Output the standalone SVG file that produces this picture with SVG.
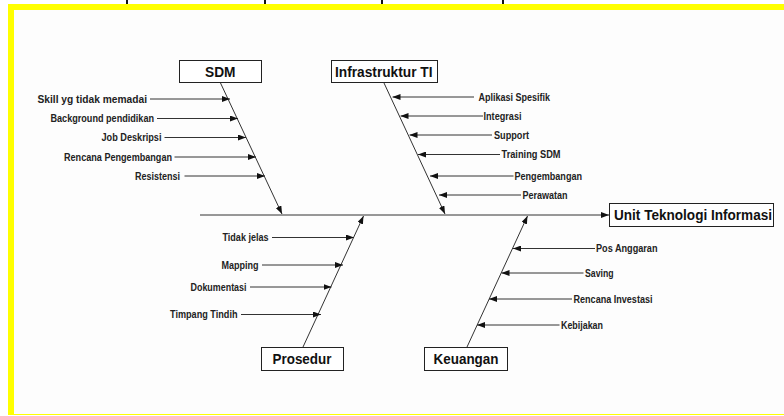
<svg xmlns="http://www.w3.org/2000/svg" width="784" height="416" viewBox="0 0 784 416">
  <style>
    .bg { fill: #fdfdfd; }
    .frame { fill: #ffff00; }
    .box { fill: #ffffff; stroke: #222222; stroke-width: 1; }
    .title { font-family: "Liberation Sans", Arial, sans-serif; font-weight: bold; font-size: 14px; fill: #111111; }
    .cause { font-family: "Liberation Sans", Arial, sans-serif; font-weight: bold; font-size: 10px; fill: #222222; }
    .bone { stroke: #333333; stroke-width: 1; fill: none; marker-end: url(#arrow); }
    .mark { fill: #111111; }
  </style>
  <defs>
    <marker id="arrow" markerUnits="userSpaceOnUse" markerWidth="8" markerHeight="6" refX="8" refY="3" orient="auto">
      <path d="M0,0 L8,3 L0,6 z" fill="#111111"/>
    </marker>
  </defs>

  <rect x="0" y="0" width="784" height="416" fill="#ffffff"/>
  <rect class="bg" x="14" y="10" width="770" height="404"/>
  <rect class="frame" x="8" y="4" width="776" height="6"/>
  <rect class="frame" x="8" y="4" width="6" height="411"/>
  <rect class="frame" x="8" y="414" width="776" height="1"/>
  <rect class="mark" x="126" y="0" width="2" height="4"/>
  <rect class="mark" x="264" y="0" width="2" height="4"/>
  <rect class="mark" x="381" y="0" width="2" height="4"/>
  <rect class="mark" x="502" y="0" width="2" height="4"/>

  <g id="connectors">
    <line class="bone" x1="200" y1="215" x2="609" y2="215"/>
    <line class="bone" x1="220.5" y1="83" x2="282" y2="214"/>
    <line class="bone" x1="384" y1="83" x2="445" y2="214"/>
    <line class="bone" x1="303" y1="347" x2="363.5" y2="216"/>
    <line class="bone" x1="467" y1="347" x2="527.5" y2="216"/>
    <!-- SDM causes -->
    <line class="bone" x1="150" y1="99" x2="230" y2="99"/>
    <line class="bone" x1="157" y1="118.5" x2="238" y2="118.5"/>
    <line class="bone" x1="164.5" y1="137.5" x2="246" y2="137.5"/>
    <line class="bone" x1="174.5" y1="157" x2="256" y2="157"/>
    <line class="bone" x1="184.5" y1="176" x2="265" y2="176"/>
    <!-- Infrastruktur causes -->
    <line class="bone" x1="474" y1="97" x2="392.5" y2="97"/>
    <line class="bone" x1="483" y1="116" x2="400.5" y2="116"/>
    <line class="bone" x1="492" y1="135" x2="409.5" y2="135"/>
    <line class="bone" x1="500" y1="154.5" x2="418" y2="154.5"/>
    <line class="bone" x1="513.5" y1="176" x2="430" y2="176"/>
    <line class="bone" x1="521" y1="195" x2="439" y2="195"/>
    <!-- Prosedur causes -->
    <line class="bone" x1="272" y1="237.5" x2="354" y2="237.5"/>
    <line class="bone" x1="262" y1="265" x2="343" y2="265"/>
    <line class="bone" x1="250" y1="287" x2="331.5" y2="287"/>
    <line class="bone" x1="241" y1="314.5" x2="321" y2="314.5"/>
    <!-- Keuangan causes -->
    <line class="bone" x1="595" y1="248.5" x2="513" y2="248.5"/>
    <line class="bone" x1="583.5" y1="273" x2="501.5" y2="273"/>
    <line class="bone" x1="572" y1="299" x2="489" y2="299"/>
    <line class="bone" x1="559.5" y1="325" x2="477" y2="325"/>
  </g>

  <g id="node-sdm">
    <rect class="box" x="179.5" y="60.5" width="82" height="22"/>
    <text class="title" x="205" y="76.5" textLength="30.5" lengthAdjust="spacingAndGlyphs">SDM</text>
  </g>
  <g id="node-infrastruktur">
    <rect class="box" x="331.5" y="60.5" width="106" height="22"/>
    <text class="title" x="335" y="76.5" textLength="97.5" lengthAdjust="spacingAndGlyphs">Infrastruktur TI</text>
  </g>
  <g id="node-prosedur">
    <rect class="box" x="261.5" y="347.5" width="82" height="23"/>
    <text class="title" x="272.5" y="364" textLength="59" lengthAdjust="spacingAndGlyphs">Prosedur</text>
  </g>
  <g id="node-keuangan">
    <rect class="box" x="424.5" y="347.5" width="83" height="23"/>
    <text class="title" x="433.5" y="364" textLength="65" lengthAdjust="spacingAndGlyphs">Keuangan</text>
  </g>
  <g id="node-effect">
    <rect class="box" x="609.5" y="203.5" width="164" height="23"/>
    <text class="title" x="614" y="220" textLength="158" lengthAdjust="spacingAndGlyphs">Unit Teknologi Informasi</text>
  </g>

  <g id="causes-sdm">
    <text class="cause" x="37.5" y="102.5" textLength="109.5" lengthAdjust="spacingAndGlyphs">Skill yg tidak memadai</text>
    <text class="cause" x="50.5" y="122" textLength="103.5" lengthAdjust="spacingAndGlyphs">Background pendidikan</text>
    <text class="cause" x="101.5" y="141" textLength="60" lengthAdjust="spacingAndGlyphs">Job Deskripsi</text>
    <text class="cause" x="64" y="160.5" textLength="108" lengthAdjust="spacingAndGlyphs">Rencana Pengembangan</text>
    <text class="cause" x="135" y="179.5" textLength="45" lengthAdjust="spacingAndGlyphs">Resistensi</text>
  </g>
  <g id="causes-infrastruktur">
    <text class="cause" x="478.5" y="100.5" textLength="71.5" lengthAdjust="spacingAndGlyphs">Aplikasi Spesifik</text>
    <text class="cause" x="483.5" y="119.5" textLength="38" lengthAdjust="spacingAndGlyphs">Integrasi</text>
    <text class="cause" x="494" y="138.5" textLength="35" lengthAdjust="spacingAndGlyphs">Support</text>
    <text class="cause" x="501.5" y="158" textLength="59" lengthAdjust="spacingAndGlyphs">Training SDM</text>
    <text class="cause" x="514.5" y="179.5" textLength="67.5" lengthAdjust="spacingAndGlyphs">Pengembangan</text>
    <text class="cause" x="522.5" y="198.5" textLength="45" lengthAdjust="spacingAndGlyphs">Perawatan</text>
  </g>
  <g id="causes-prosedur">
    <text class="cause" x="222.5" y="241" textLength="46" lengthAdjust="spacingAndGlyphs">Tidak jelas</text>
    <text class="cause" x="221.5" y="268.5" textLength="37" lengthAdjust="spacingAndGlyphs">Mapping</text>
    <text class="cause" x="190.5" y="290.5" textLength="56" lengthAdjust="spacingAndGlyphs">Dokumentasi</text>
    <text class="cause" x="170" y="318" textLength="67.5" lengthAdjust="spacingAndGlyphs">Timpang Tindih</text>
  </g>
  <g id="causes-keuangan">
    <text class="cause" x="596" y="252" textLength="61.5" lengthAdjust="spacingAndGlyphs">Pos Anggaran</text>
    <text class="cause" x="585" y="276.5" textLength="28.5" lengthAdjust="spacingAndGlyphs">Saving</text>
    <text class="cause" x="573.5" y="302.5" textLength="79" lengthAdjust="spacingAndGlyphs">Rencana Investasi</text>
    <text class="cause" x="561" y="328.5" textLength="42" lengthAdjust="spacingAndGlyphs">Kebijakan</text>
  </g>
</svg>
